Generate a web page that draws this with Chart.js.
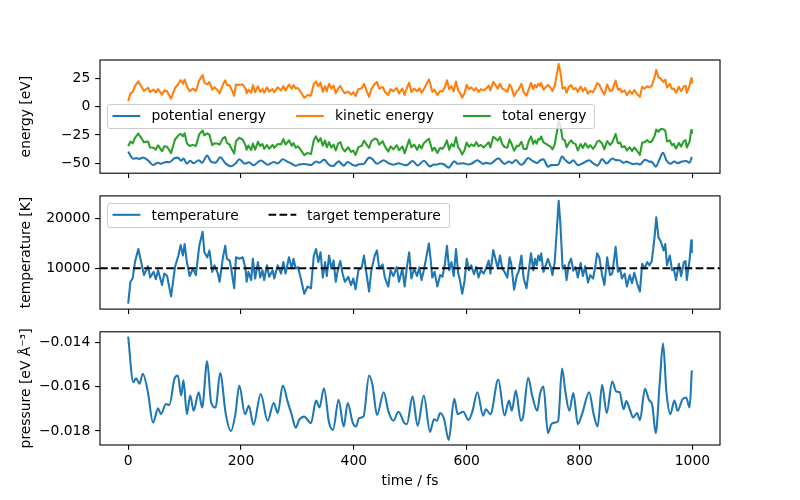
<!DOCTYPE html>
<html>
<head>
<meta charset="utf-8">
<script src="https://cdn.jsdelivr.net/npm/chart.js@4.4.0/dist/chart.umd.min.js"></script>
<style>
  body { margin: 0; background: #fff; }
  #fig { position: relative; width: 800px; height: 500px; overflow: hidden;
         font-family: 'DejaVu Sans', sans-serif; font-size: 13.89px; color: #000; }
  #fig canvas { position: absolute; left: 0; }
  .box { position: absolute; box-sizing: border-box; background: rgba(255,255,255,0.8);
         border: 1px solid #cccccc; border-radius: 3px; }
  .lbl { position: absolute; white-space: nowrap; line-height: 16px; }
  #keys { position: absolute; left: 0; top: 0; }
</style>
</head>
<body>
<div id="fig">
  <canvas id="energyChart" width="800" height="190" style="top:0px"></canvas>
  <canvas id="tempChart" width="800" height="146" style="top:180px"></canvas>
  <canvas id="pressChart" width="800" height="184" style="top:316px"></canvas>

  <div class="box" style="left:107px; top:104px; width:488px; height:25px"></div>
  <div class="box" style="left:107px; top:203px; width:343px; height:25px"></div>
  <svg id="keys" width="800" height="500">
    <line x1="112.5" y1="116" x2="140.3" y2="116" stroke="#1f77b4" stroke-width="2.08"/>
    <line x1="296" y1="116" x2="323.8" y2="116" stroke="#ff7f0e" stroke-width="2.08"/>
    <line x1="463" y1="116" x2="490.8" y2="116" stroke="#2ca02c" stroke-width="2.08"/>
    <line x1="112.5" y1="214.8" x2="140.3" y2="214.8" stroke="#1f77b4" stroke-width="2.08"/>
    <line x1="268.5" y1="214.8" x2="296.3" y2="214.8" stroke="#000" stroke-width="2.08" stroke-dasharray="7.7 3.33"/>
  </svg>
  <span class="lbl" style="left:151.5px; top:107px">potential energy</span>
  <span class="lbl" style="left:335px; top:107px">kinetic energy</span>
  <span class="lbl" style="left:502px; top:107px">total energy</span>
  <span class="lbl" style="left:151.5px; top:206.5px">temperature</span>
  <span class="lbl" style="left:307px; top:206.5px">target temperature</span>
</div>
<script>
// time axis (fs)
const xLimits = [-49.95, 1048.95];
const xTicks = [0, 200, 400, 600, 800, 1000];

// sampled at the jagged temperature / kinetic energy features
const time = [0,4,8,12,18,23,28,35,39,45, 49,53,60,64,69,76,83,89,93,97,
  100,104,109,115,120,126,132,135,140,144, 149,153,159,162,168,172,175,180,183,188,
  191,197,203,208,210,213,218,221,225,230, 234,238,241,246,250,256,259,265,271,275,
  279,285,290,293,297,301,306,312,318,324, 329,333,337,341,345,349,352,356,360,364,
  368,372,376,380,384,390,395,399,403,408, 414,418,423,427,431,437,441,445,451,455,
  461,465,470,476,480,486,490,494,498,502, 507,512,516,520,524,529,533,536,539,543,
  548,553,557,561,565,569,573,577,581,585, 588,592,596,600,604,608,613,617,621,625,
  630,635,639,642,647,651,655,659,663,667, 672,676,679,684,689,692,697,701,706,710,
  714,718,721,724,727,730,732,736,740,744, 749,752,756,759,763,766,770,774,777,781,
  785,789,793,797,802,806,810,815,819,824, 828,831,835,840,844,849,854,858,864,868,
  872,875,880,884,889,893,897,902,907,911, 915,920,924,928,933,936,940,944,949,952,
  955,960,964,967,971,976,980,985,988,990, 995,998,999];

const temperature = [2950,7300,8000,11250,13850,11250,8650,10400,8150,9300,
  7800,9600,6650,8950,8450,4400,10250,12550,14650,12550,
  14850,11250,8450,9950,8650,14500,17300,13200,12200,13550,
  9300,10600,8950,7300,12200,14500,11900,11550,9600,6000,
  12200,11900,12200,9950,7300,9300,7650,11900,7950,11250,
  8150,9600,7650,10600,8300,9600,7950,10600,8950,11250,
  8950,12200,9950,11900,9950,10250,7950,4900,6350,6000,
  12550,13850,11250,13200,8150,11250,8450,12550,9950,11550,
  7300,9950,11450,8950,7300,8300,6650,7950,5800,9600,
  10150,12550,8450,5350,9600,12550,13550,9950,10800,8150,
  6350,9600,8450,10250,7300,9950,6350,10250,13200,7950,
  9950,8450,10150,7650,9600,12550,14950,11900,8150,9300,
  6350,8650,8300,10600,14500,9600,11250,8450,13850,8950,
  7650,4900,7300,11900,9600,10600,8800,10250,8150,9600,
  8950,10150,11550,8950,13650,11900,9950,12550,9950,9300,
  8150,12200,10900,5700,8650,9300,12550,7950,6000,9600,
  13000,9600,11900,10600,12550,11550,13000,9300,10600,11900,
  10250,8650,11250,16450,23500,19000,9950,10600,7650,10900,
  11900,9500,10250,8150,11050,8450,10400,7150,8650,7950,
  10400,13000,12200,8650,6650,12200,8650,8950,14300,9300,
  9950,7950,8950,6350,8650,7000,9100,7000,5350,10900,
  9950,11250,10600,11450,16250,20200,16150,15350,13550,14850,
  10600,12550,9600,9950,7650,10900,8450,11250,11450,7650,
  11550,15600,13200];

const kineticEnergy = [4.7,11.7,12.8,18.0,22.2,18.0,13.8,16.6,13.0,14.9,
  12.5,15.4,10.6,14.3,13.5,7.0,16.4,20.1,23.4,20.1,
  23.8,18.0,13.5,15.9,13.8,23.2,27.7,21.1,19.5,21.7,
  14.9,17.0,14.3,11.7,19.5,23.2,19.0,18.5,15.4,9.6,
  19.5,19.0,19.5,15.9,11.7,14.9,12.2,19.0,12.7,18.0,
  13.0,15.4,12.2,17.0,13.3,15.4,12.7,17.0,14.3,18.0,
  14.3,19.5,15.9,19.0,15.9,16.4,12.7,7.8,10.2,9.6,
  20.1,22.2,18.0,21.1,13.0,18.0,13.5,20.1,15.9,18.5,
  11.7,15.9,18.3,14.3,11.7,13.3,10.6,12.7,9.3,15.4,
  16.2,20.1,13.5,8.6,15.4,20.1,21.7,15.9,17.3,13.0,
  10.2,15.4,13.5,16.4,11.7,15.9,10.2,16.4,21.1,12.7,
  15.9,13.5,16.2,12.2,15.4,20.1,23.9,19.0,13.0,14.9,
  10.2,13.8,13.3,17.0,23.2,15.4,18.0,13.5,22.2,14.3,
  12.2,7.8,11.7,19.0,15.4,17.0,14.1,16.4,13.0,15.4,
  14.3,16.2,18.5,14.3,21.8,19.0,15.9,20.1,15.9,14.9,
  13.0,19.5,17.4,9.1,13.8,14.9,20.1,12.7,9.6,15.4,
  20.8,15.4,19.0,17.0,20.1,18.5,20.8,14.9,17.0,19.0,
  16.4,13.8,18.0,26.3,37.6,30.4,15.9,17.0,12.2,17.4,
  19.0,15.2,16.4,13.0,17.7,13.5,16.6,11.4,13.8,12.7,
  16.6,20.8,19.5,13.8,10.6,19.5,13.8,14.3,22.9,14.9,
  15.9,12.7,14.3,10.2,13.8,11.2,14.6,11.2,8.6,17.4,
  15.9,18.0,17.0,18.3,26.0,32.3,25.8,24.6,21.7,23.8,
  17.0,20.1,15.4,15.9,12.2,17.4,13.5,18.0,18.3,12.2,
  18.5,25.0,21.1];

const totalEnergy = [-35.0,-30.8,-32.4,-27.6,-23.7,-27.5,-31.5,-30.7,-36.1,-36.3,
  -37.9,-34.1,-39.3,-35.0,-35.4,-41.0,-29.0,-25.3,-23.9,-26.1,
  -23.4,-32.3,-34.7,-33.7,-34.8,-24.4,-21.1,-25.4,-23.6,-24.8,
  -34.0,-32.3,-32.7,-33.5,-27.9,-26.8,-31.8,-33.7,-37.0,-41.3,
  -30.5,-27.4,-29.2,-34.2,-38.0,-34.3,-38.2,-32.5,-38.0,-31.0,
  -34.7,-33.0,-37.2,-34.0,-37.1,-33.8,-36.3,-33.1,-33.2,-28.6,
  -33.4,-29.7,-34.5,-32.1,-36.2,-35.0,-38.2,-42.8,-40.8,-41.9,
  -29.7,-26.2,-31.0,-27.8,-34.4,-29.9,-35.8,-31.3,-36.1,-33.5,
  -38.6,-32.7,-31.2,-36.9,-39.5,-35.8,-39.9,-38.8,-42.6,-35.7,
  -34.5,-30.0,-33.8,-36.4,-30.5,-28.2,-28.7,-33.5,-30.5,-35.0,
  -39.6,-35.0,-37.7,-33.9,-38.4,-35.0,-41.2,-35.2,-29.0,-35.9,
  -33.4,-38.0,-34.0,-36.8,-32.3,-29.9,-28.3,-33.4,-38.8,-36.1,
  -40.8,-36.3,-37.3,-34.5,-29.8,-38.1,-33.0,-35.1,-27.0,-36.0,
  -37.9,-42.2,-38.5,-31.6,-35.5,-33.3,-34.9,-31.3,-35.0,-33.8,
  -36.0,-33.5,-31.5,-36.0,-26.7,-28.0,-29.9,-26.9,-33.1,-35.6,
  -36.3,-29.1,-32.1,-38.9,-34.4,-34.9,-31.0,-37.3,-37.3,-30.2,
  -26.3,-32.8,-29.9,-32.6,-28.5,-29.0,-26.3,-31.6,-32.7,-33.9,
  -35.4,-37.7,-33.4,-25.0,-13.0,-16.2,-28.7,-29.8,-35.8,-32.2,
  -29.8,-32.2,-33.1,-38.6,-33.0,-36.4,-32.3,-36.2,-34.0,-37.3,
  -34.4,-30.9,-30.0,-32.5,-37.6,-30.3,-33.8,-31.5,-24.1,-32.4,
  -31.7,-35.8,-34.9,-38.5,-35.8,-39.2,-36.0,-38.9,-42.5,-31.8,
  -31.3,-29.6,-31.4,-30.7,-25.8,-20.3,-22.1,-19.7,-19.9,-21.3,
  -30.7,-29.8,-34.2,-32.7,-37.0,-32.0,-35.2,-30.2,-29.7,-36.0,
  -30.9,-20.6,-23.2];

// sampled at the smoother pressure / potential energy features
const timeSmooth = [0,9,14,20,26,35,44,53,58,67, 73,82,88,94,98,104,110,116,125,131,
  140,147,155,163,173,182,190,197,207,214, 222,235,247,258,265,274,283,290,297,303,
  312,324,333,339,347,356,363,373,382,389, 398,404,409,417,427,433,441,453,461,470,
  479,489,494,504,513,524,535,542,547,553, 560,568,578,584,594,603,610,619,629,634,
  642,656,667,675,680,687,696,700,709,716, 725,730,736,744,750,757,762,769,775,782,
  789,797,805,817,825,832,840,848,858,865, 871,878,883,889,895,902,907,916,923,929,
  935,942,948,954,961,968,974,982,989,995, 999];

const potentialEnergy = [-39.7,-45.9,-45.4,-46.1,-44.8,-47.3,-51.4,-49.5,-50.3,-48.9,
  -49.0,-45.5,-45.0,-47.7,-45.7,-50.3,-47.7,-49.8,-47.3,-49.4,
  -43.1,-48.7,-49.4,-44.7,-50.3,-52.6,-50.3,-46.4,-50.3,-49.1,
  -51.7,-47.5,-51.2,-48.8,-50.1,-46.4,-48.7,-50.4,-52.1,-51.1,
  -50.6,-51.5,-48.4,-49.4,-46.7,-51.4,-52.4,-48.3,-52.0,-48.8,
  -51.4,-52.0,-50.8,-50.6,-45.0,-46.3,-50.4,-47.3,-49.8,-51.2,
  -49.9,-51.4,-51.6,-47.9,-51.9,-47.7,-52.7,-51.0,-51.2,-50.1,
  -51.0,-53.8,-48.2,-50.3,-49.9,-51.1,-49.9,-47.3,-50.5,-49.6,
  -50.3,-45.6,-50.5,-48.4,-49.8,-47.1,-51.2,-50.6,-45.3,-47.7,
  -49.8,-47.5,-46.5,-52.9,-51.6,-51.4,-51.2,-44.1,-47.3,-49.8,
  -47.4,-51.6,-50.1,-47.3,-50.3,-52.0,-46.3,-50.1,-45.8,-47.2,
  -47.3,-49.6,-48.5,-49.6,-50.7,-50.1,-51.1,-46.8,-48.3,-49.1,
  -52.9,-46.1,-40.6,-47.3,-50.3,-48.4,-49.8,-48.3,-48.0,-49.4,
  -44.3];

const pressure = [-0.01375,-0.0158,-0.01562,-0.01587,-0.01542,-0.01625,-0.01762,-0.01698,-0.01724,-0.01678,
  -0.01683,-0.01565,-0.0155,-0.0164,-0.01572,-0.01724,-0.0164,-0.01709,-0.01625,-0.01694,
  -0.01486,-0.01671,-0.01694,-0.01539,-0.01724,-0.018,-0.01724,-0.01595,-0.01724,-0.01686,
  -0.01772,-0.01633,-0.01754,-0.01674,-0.01719,-0.01595,-0.01671,-0.01728,-0.01785,-0.0175,
  -0.01735,-0.01765,-0.01663,-0.01694,-0.01607,-0.01762,-0.01795,-0.01659,-0.0178,-0.01674,
  -0.01762,-0.0178,-0.01742,-0.01735,-0.0155,-0.01592,-0.01728,-0.01625,-0.01709,-0.01754,
  -0.01713,-0.01762,-0.01769,-0.01644,-0.01777,-0.0164,-0.01804,-0.01747,-0.01754,-0.01719,
  -0.01747,-0.0184,-0.01655,-0.01724,-0.01713,-0.0175,-0.01713,-0.01625,-0.01731,-0.01702,
  -0.01724,-0.01568,-0.0173,-0.01663,-0.01709,-0.01618,-0.01754,-0.01735,-0.0156,-0.0164,
  -0.01709,-0.01633,-0.016,-0.0181,-0.01769,-0.01762,-0.01755,-0.01519,-0.01625,-0.01709,
  -0.01629,-0.01769,-0.01719,-0.01625,-0.01724,-0.0178,-0.01592,-0.01719,-0.01577,-0.01622,
  -0.01625,-0.01702,-0.01665,-0.01702,-0.01739,-0.01719,-0.0175,-0.0161,-0.01659,-0.01685,
  -0.0181,-0.01587,-0.01405,-0.01625,-0.01724,-0.01663,-0.01709,-0.01659,-0.01649,-0.01694,
  -0.01527];

const targetTemperature = 10000;

// axis ticks
const energyTicks = [25, 0, -25, -50];
const tempTicks = [10000, 20000];
const pressureTicks = [-0.014, -0.016, -0.018];

Chart.defaults.font.family = "'DejaVu Sans', sans-serif";
Chart.defaults.font.size = 13.89;
Chart.defaults.color = '#000';

const minus = s => s.replace('-', '\u2212');

const framePlugin = {
  id: 'frame',
  afterDatasetsDraw(chart) {
    const { ctx, chartArea: a } = chart;
    ctx.save();
    ctx.strokeStyle = '#000';
    ctx.lineWidth = 1.1;
    ctx.strokeRect(a.left, a.top, a.right - a.left, a.bottom - a.top);
    ctx.restore();
  }
};

function pts(xs, ys) {
  return xs.map((x, i) => ({ x: x, y: ys[i] }));
}

function line(data, color, dash, smooth) {
  return {
    data: data,
    borderColor: color,
    backgroundColor: color,
    borderWidth: 2.08,
    borderDash: dash || [],
    borderJoinStyle: 'round',
    pointRadius: 0,
    cubicInterpolationMode: smooth ? 'monotone' : 'default',
    tension: 0,
    fill: false
  };
}

const tickGrid = { drawOnChartArea: false, drawTicks: true, tickLength: 4.86, color: '#000', lineWidth: 1.1 };

function xScale(showLabels, height) {
  return {
    type: 'linear',
    min: xLimits[0],
    max: xLimits[1],
    afterBuildTicks: s => { s.ticks = xTicks.map(v => ({ value: v })); },
    afterFit: s => { s.height = height; },
    grid: tickGrid,
    border: { display: false },
    ticks: { display: showLabels, padding: 3, maxRotation: 0, color: '#000', callback: v => String(v) },
    title: { display: showLabels, text: 'time / fs', color: '#000', padding: { top: 0, bottom: 10.6 } }
  };
}

function yScale(min, max, ticks, fmt, title) {
  return {
    type: 'linear',
    min: min,
    max: max,
    afterBuildTicks: s => { s.ticks = ticks.map(v => ({ value: v })); },
    afterFit: s => { s.width = 100; },
    grid: tickGrid,
    border: { display: false },
    ticks: { padding: 4.86, color: '#000', callback: fmt },
    title: { display: true, text: title, color: '#000', padding: { top: 17.7, bottom: 0 } }
  };
}

function options(padTop, xHeight, showX, y) {
  return {
    responsive: false,
    animation: false,
    layout: { padding: { top: padTop, right: 80, left: 0, bottom: 0 } },
    plugins: { legend: { display: false }, tooltip: { enabled: false } },
    scales: { x: xScale(showX, xHeight), y: y }
  };
}

new Chart(document.getElementById('energyChart'), {
  type: 'line',
  data: {
    datasets: [
      line(pts(time, totalEnergy), '#2ca02c'),
      line(pts(time, kineticEnergy), '#ff7f0e'),
      line(pts(timeSmooth, potentialEnergy), '#1f77b4', null, true)
    ]
  },
  options: options(60, 16.8, false,
    yScale(-58.7, 41.1, energyTicks, v => minus(String(v)), 'energy [eV]')),
  plugins: [framePlugin]
});

new Chart(document.getElementById('tempChart'), {
  type: 'line',
  data: {
    datasets: [
      line(pts(xLimits, xLimits.map(() => targetTemperature)), '#000', [7.7, 3.33]),
      line(pts(time, temperature), '#1f77b4')
    ]
  },
  options: options(15.9, 16.9, false,
    yScale(1840, 24480, tempTicks, v => String(v), 'temperature [K]')),
  plugins: [framePlugin]
});

new Chart(document.getElementById('pressChart'), {
  type: 'line',
  data: {
    datasets: [
      line(pts(timeSmooth, pressure), '#1f77b4', null, true)
    ]
  },
  options: options(15.8, 55, true,
    yScale(-0.01863, -0.01353, pressureTicks, v => minus(v.toFixed(3)), 'pressure [eV \u00c5\u207b\u00b3]')),
  plugins: [framePlugin]
});
</script>
</body>
</html>
